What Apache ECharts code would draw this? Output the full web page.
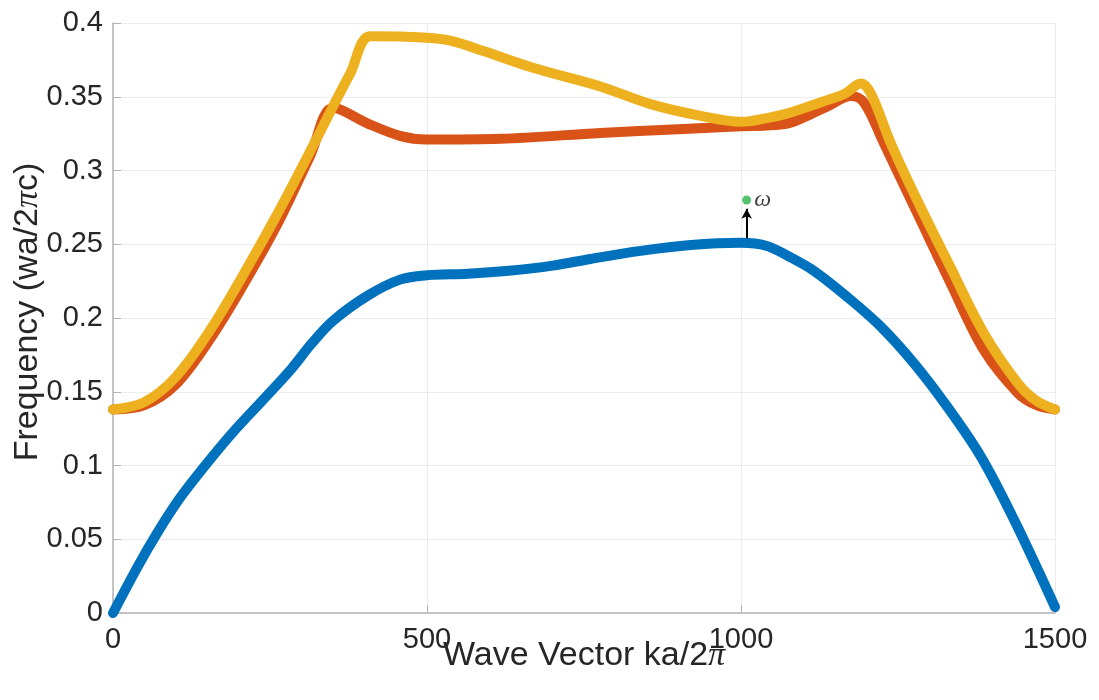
<!DOCTYPE html>
<html>
<head>
<meta charset="utf-8">
<script src="https://cdn.jsdelivr.net/npm/echarts@6/dist/echarts.min.js"></script>
<style>html,body{margin:0;padding:0;background:#fff;}#c{width:1099px;height:700px;}</style>
</head>
<body>
<div id="c"></div>
<script>
// Wave vector (x) and frequency (y) values per band
const kBlue = [0, 40, 70, 105, 145, 190, 240, 285, 315, 350, 405, 457, 500, 565, 630, 700, 760, 840, 920, 1000, 1040, 1075, 1116, 1170, 1223, 1276, 1329, 1382, 1435, 1500];
const fBlue = [0, 0.032, 0.054, 0.077, 0.099, 0.122, 0.145, 0.166, 0.182, 0.198, 0.215, 0.226, 0.229, 0.230, 0.232, 0.2355, 0.240, 0.2455, 0.2495, 0.251, 0.249, 0.242, 0.232, 0.214, 0.194, 0.169, 0.1395, 0.106, 0.063, 0.004];

const kOrange = [0, 50, 100, 155, 207, 261, 314, 351, 405, 457, 500, 617, 776, 900, 1000, 1040, 1075, 1100, 1140, 1175, 1196, 1228, 1281, 1334, 1387, 1441, 1470, 1500];
const fOrange = [0.138, 0.141, 0.155, 0.186, 0.222, 0.263, 0.310, 0.3425, 0.332, 0.3235, 0.321, 0.3215, 0.3255, 0.328, 0.330, 0.3305, 0.332, 0.336, 0.344, 0.3505, 0.346, 0.318, 0.2707, 0.2233, 0.178, 0.149, 0.141, 0.138];

const kYellow = [0, 50, 100, 155, 207, 261, 314, 351, 378, 410, 500, 537, 590, 670, 776, 856, 936, 1000, 1015, 1068, 1132, 1165, 1191, 1207, 1239, 1281, 1334, 1387, 1441, 1470, 1500];
const fYellow = [0.138, 0.143, 0.160, 0.192, 0.229, 0.270, 0.313, 0.344, 0.366, 0.391, 0.390, 0.388, 0.381, 0.3695, 0.357, 0.345, 0.337, 0.333, 0.3335, 0.338, 0.347, 0.352, 0.359, 0.352, 0.318, 0.2795, 0.234, 0.1895, 0.1557, 0.144, 0.138];

const omegaPoint = [1009, 0.28];
const arrowFrom = [1009, 0.254];
const arrowTo = [1009, 0.274];

const xTicks = [0, 500, 1000, 1500];
const yTicks = [0, 0.05, 0.1, 0.15, 0.2, 0.25, 0.3, 0.35, 0.4];

const zip = (a, b) => a.map((v, i) => [v, b[i]]);
const font = '"Liberation Sans", Arial, Helvetica, sans-serif';
const serif = '"Liberation Serif", "DejaVu Serif", serif';
const txt = '#262626';

const chart = echarts.init(document.getElementById('c'), null, {renderer: 'canvas'});
const lineSeries = (data, color) => ({
  type: 'line', data: data, showSymbol: false, symbol: 'none', smooth: 0.35,
  lineStyle: {color: color, width: 10, cap: 'round', join: 'round'},
  itemStyle: {color: color}, silent: true, animation: false
});

chart.setOption({
  animation: false,
  backgroundColor: '#ffffff',
  grid: {left: 113, right: 44, top: 23, bottom: 87},
  xAxis: {
    type: 'value', min: 0, max: 1500, interval: 500,
    name: 'Wave Vector ka/2{pi|π}', nameLocation: 'middle', nameGap: 26, nameMoveOverlap: false,
    nameTextStyle: {color: txt, fontSize: 34, fontFamily: font, verticalAlign: 'top',
      rich: {pi: {fontSize: 34, fontFamily: serif, fontStyle: 'italic', color: txt}}},
    axisLine: {show: true, lineStyle: {color: '#b3b3b3', width: 1.5}},
    axisTick: {show: true, inside: true, length: 8, lineStyle: {color: '#b3b3b3'}},
    axisLabel: {color: txt, fontSize: 29, fontFamily: font, margin: 12,
      formatter: v => xTicks.includes(v) ? String(v) : ''},
    splitLine: {show: true, lineStyle: {color: '#ececec', width: 1}}
  },
  yAxis: {
    type: 'value', min: 0, max: 0.4, interval: 0.05,
    name: 'Frequency (wa/2{pi|π}c)', nameLocation: 'middle', nameGap: 85, nameRotate: 90, nameMoveOverlap: false,
    nameTextStyle: {color: txt, fontSize: 34, fontFamily: font, verticalAlign: 'middle', padding: [0, 0, 0, 12],
      rich: {pi: {fontSize: 34, fontFamily: serif, fontStyle: 'italic', color: txt}}},
    axisLine: {show: true, lineStyle: {color: '#b3b3b3', width: 1.5}},
    axisTick: {show: true, inside: true, length: 8, lineStyle: {color: '#b3b3b3'}},
    axisLabel: {color: txt, fontSize: 29, fontFamily: font, margin: 10,
      formatter: v => { const t = yTicks.find(y => Math.abs(y - v) < 1e-9); return t === undefined ? '' : String(+t.toFixed(2)); }},
    splitLine: {show: true, lineStyle: {color: '#ececec', width: 1}}
  },
  series: [
    lineSeries(zip(kBlue, fBlue), '#0072BD'),
    lineSeries(zip(kOrange, fOrange), '#D95319'),
    lineSeries(zip(kYellow, fYellow), '#EDB120'),
    {
      type: 'scatter', data: [omegaPoint], symbolSize: 9, silent: true,
      itemStyle: {color: '#2db34a'},
      label: {show: true, position: 'right', distance: 3, formatter: 'ω', color: '#111',
        fontSize: 24, fontStyle: 'italic', fontFamily: serif},
      markLine: {
        silent: true, symbol: ['none', 'arrow'], symbolSize: [8, 10],
        label: {show: false},
        lineStyle: {color: '#000', width: 2, type: 'solid'},
        data: [[{coord: arrowFrom}, {coord: arrowTo}]]
      }
    }
  ]
});
</script>
</body>
</html>
